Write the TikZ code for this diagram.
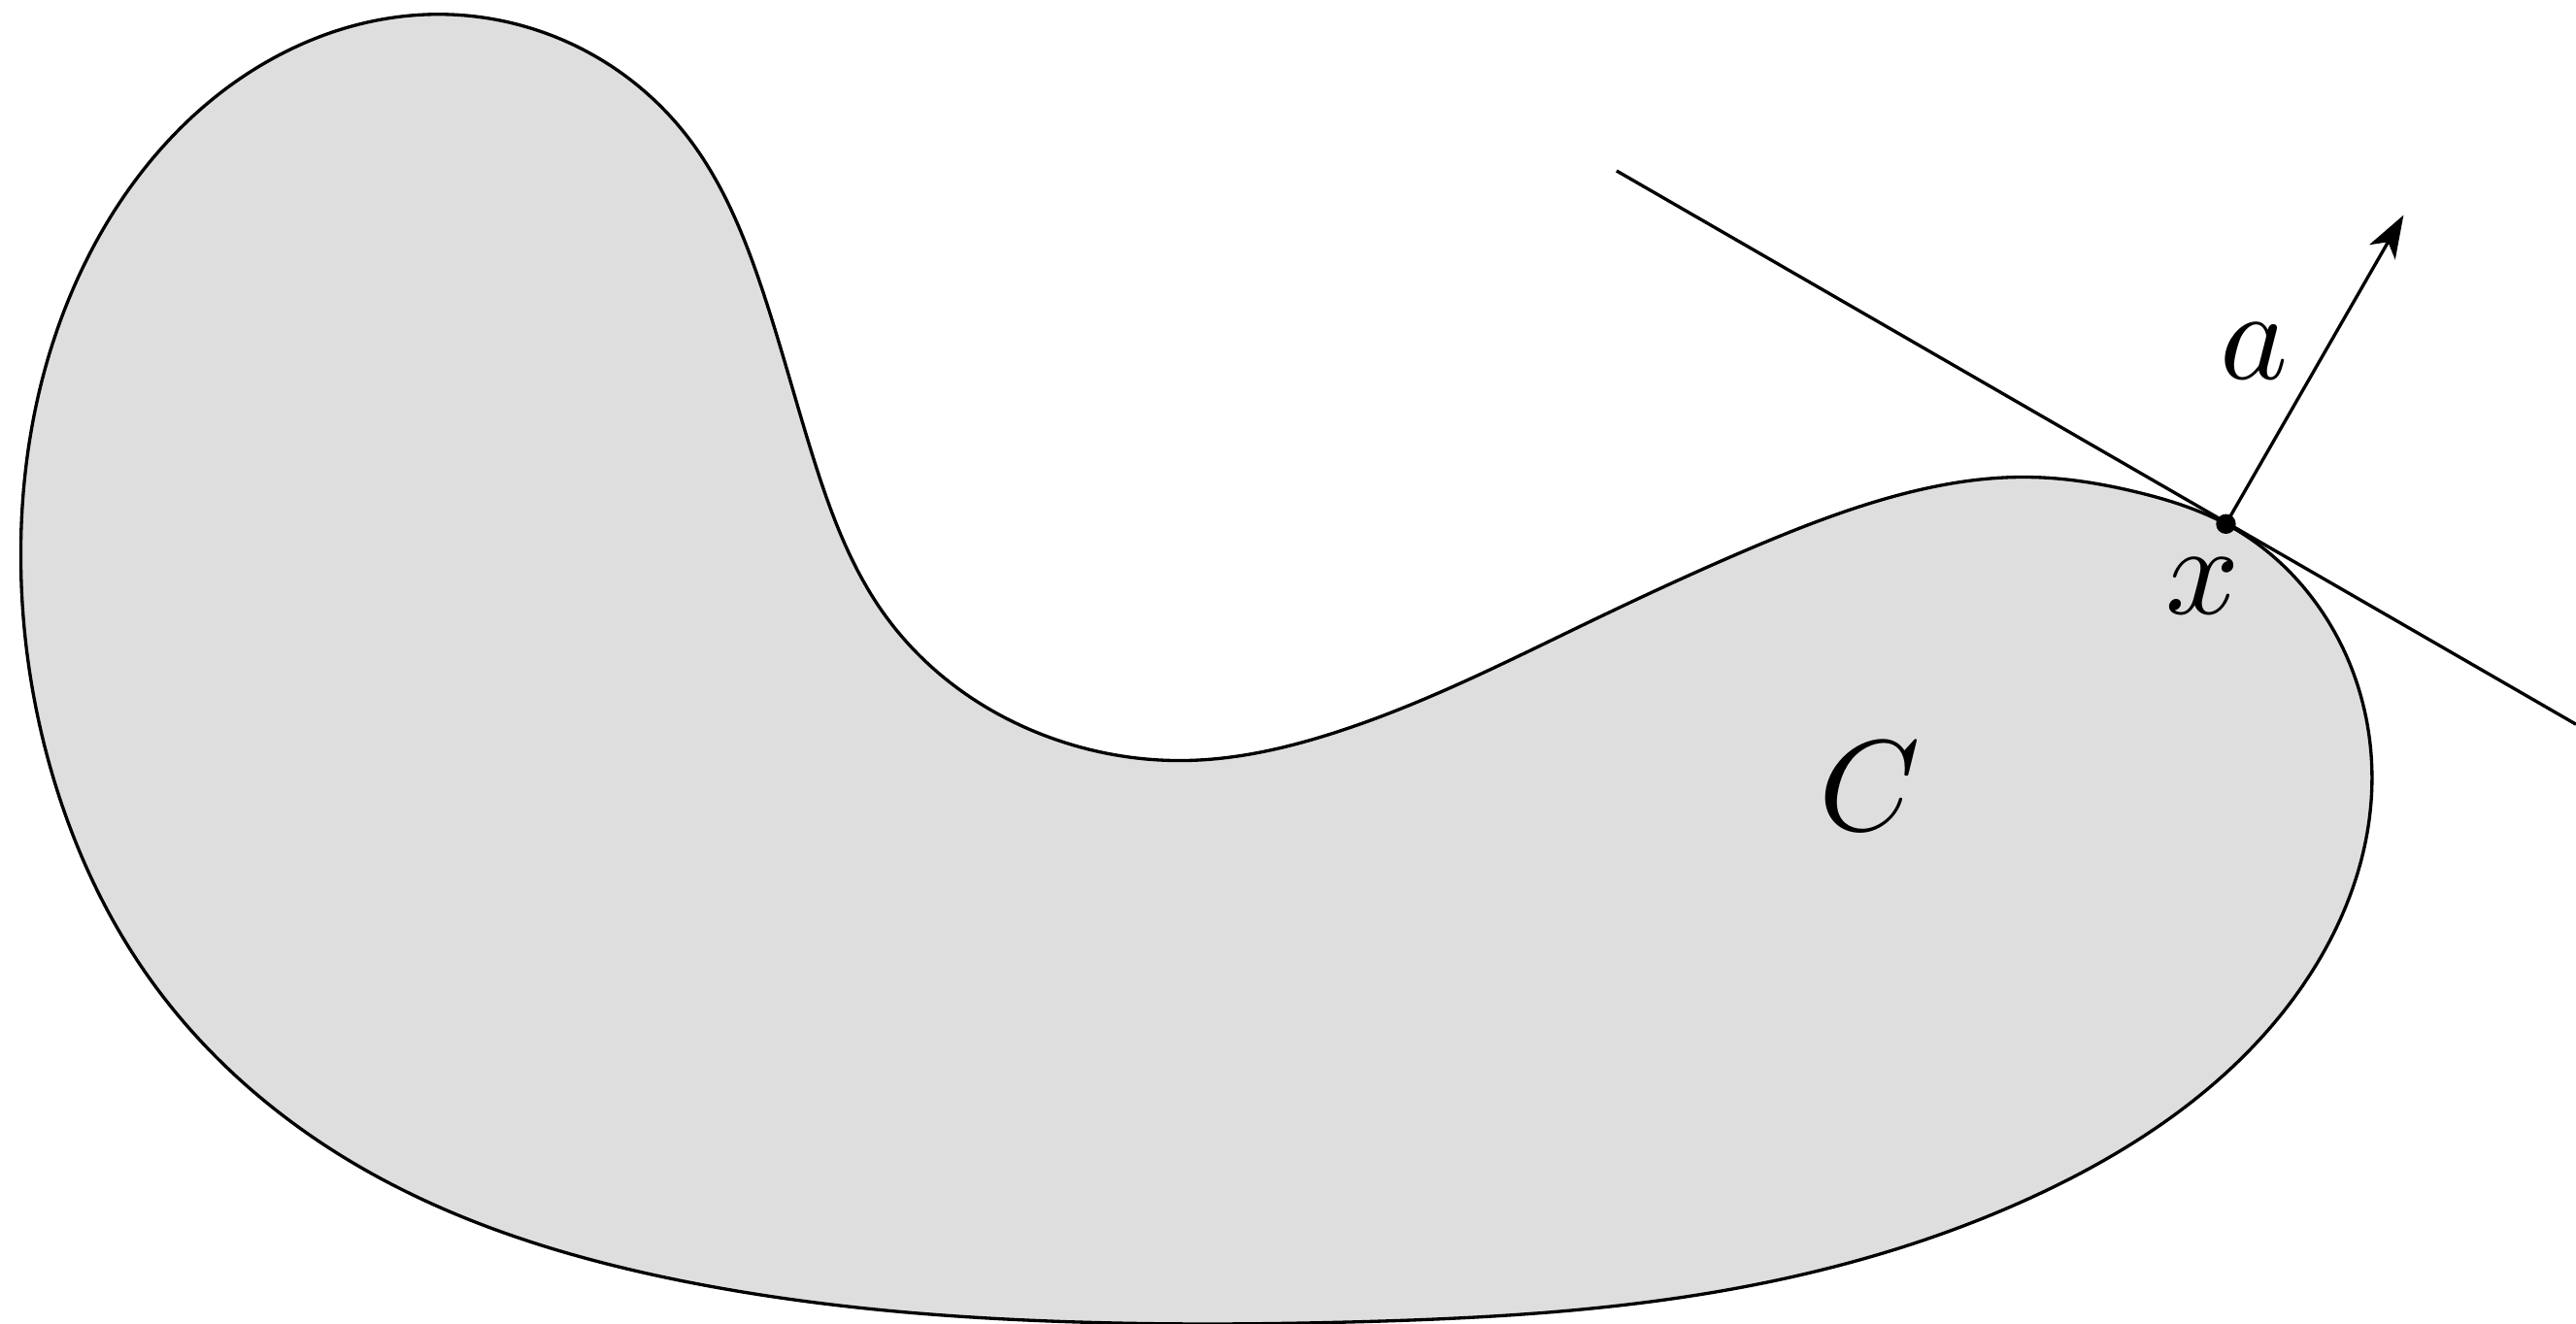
\documentclass[tikz,border=0pt]{standalone}
\usetikzlibrary{arrows.meta,hobby}
\definecolor{blobgray}{RGB}{222,222,222}
\tikzset{
  thinline/.style={line width=0.25pt},
  lbl/.style={inner sep=0pt, font=\normalsize},
}
\begin{document}
\begin{tikzpicture}[x=0.0044643cm, y=-0.0044643cm]
\useasboundingbox (0,0) rectangle (1568,806);
\coordinate (X) at (1354.9,319);
\coordinate (T1) at (984,104);
\coordinate (T2) at (1568,441);
\coordinate (A) at (1463,131);
% the set C
\draw[thinline, fill=blobgray, use Hobby shortcut, closed=true]
  (266,8.7) .. (364.5,35.5) .. (419.6,84.7) .. (463,173.4) .. (494.5,277)
  .. (539,375) .. (650,452.7) .. (724,463) .. (808,447.5) .. (966.7,379)
  .. (1064,334.5) .. (1143,305) .. (1235,290.5) .. (1301,299.7) .. (X)
  .. (1406.6,363) .. (1443.8,476.4) .. (1406.6,592.6) .. (1241,727)
  .. (1038.5,787.6) .. (827,804.8) .. (651,804.8) .. (413.7,779.6)
  .. (211,705.7) .. (92.4,597.6) .. (31.7,471) .. (12.7,343)
  .. (48,168) .. (184.7,26.4);
\draw[thinline] (T1) -- (T2);
\draw[thinline, -{Stealth[length=3.3pt, width=2.3pt, inset=0.9pt]}] (X) -- (A);
\fill (X) circle[radius=0.027cm];
\node[lbl] (la) at (1372,214) {$a$};
\node[lbl] (lx) at (1341,357) {$x$};
\node[lbl] (lC) at (1138,479) {$C$};
\end{tikzpicture}
\end{document}
